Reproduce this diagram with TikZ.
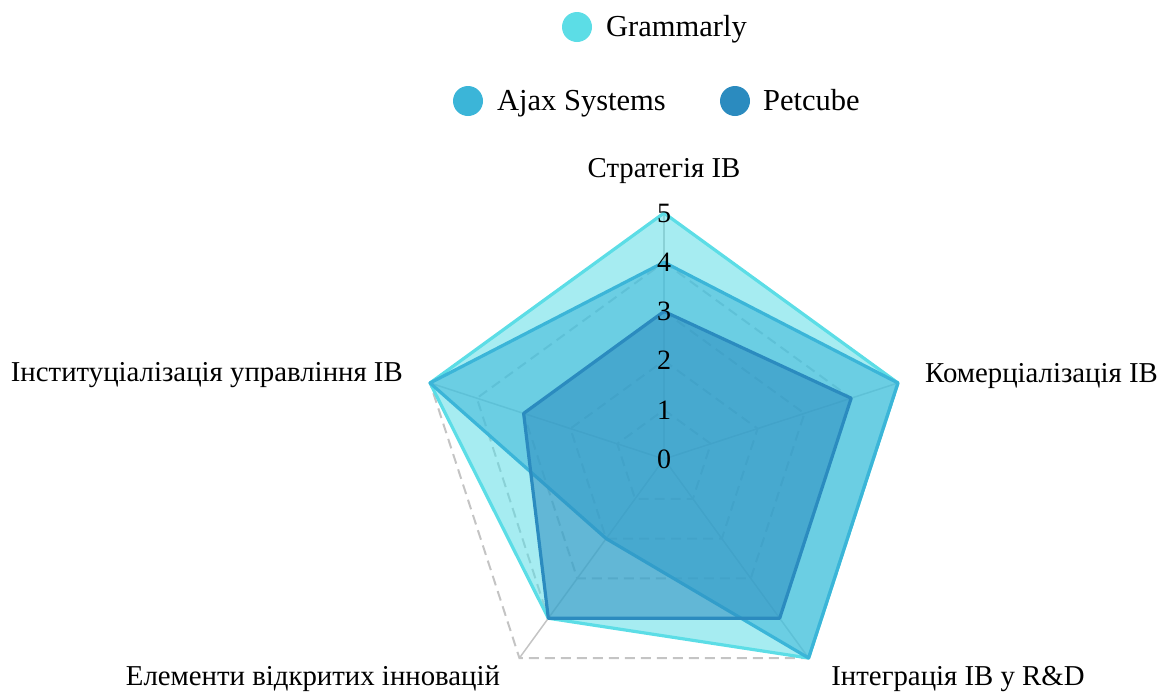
\documentclass[tikz,border=0pt]{standalone}
\usepackage{fontspec}
\setmainfont{Liberation Serif}
\definecolor{gram}{HTML}{5CDDE6}
\definecolor{ajax}{HTML}{3BB5D8}
\definecolor{pet}{HTML}{2B8BBF}
\definecolor{gridc}{HTML}{C4C4C4}
\def\rstep{49.2}
\tikzset{
  gridring/.style={draw=gridc, line width=2pt, dash pattern=on 10pt off 6pt},
  gridspoke/.style={draw=gridc, line width=1.5pt},
  series/.style={draw=#1, line width=3.2pt, line join=round, fill=#1, fill opacity=0.55, draw opacity=1},
  lbl/.style={inner sep=0pt, font=\fontsize{28.8}{34}\selectfont},
  leg/.style={inner sep=0pt, font=\fontsize{30.5}{36}\selectfont},
  tick/.style={inner sep=0pt, font=\fontsize{28}{34}\selectfont},
  legdot/.style={fill=#1},
}
\begin{document}
\begin{tikzpicture}[x=1pt,y=-1pt]
\useasboundingbox (0,0) rectangle (1164,694);
% legend
\fill[legdot=gram] (577,27) circle (15pt);
\node[leg, anchor=base west] (lg) at (606,36) {Grammarly};
\fill[legdot=ajax] (468,101) circle (15pt);
\node[leg, anchor=base west] (la) at (497,110) {Ajax Systems};
\fill[legdot=pet] (735,101) circle (15pt);
\node[leg, anchor=base west] (lp) at (763,110) {Petcube};
% axis labels
\node[lbl, anchor=base] (ax1) at (664,177) {Стратегія ІВ};
\node[lbl, anchor=base west] (ax2) at (925,382) {Комерціалізація ІВ};
\node[lbl, anchor=base] (ax3) at (958,685) {Інтеграція ІВ у R\&D};
\node[lbl, anchor=base] (ax4) at (313,685) {Елементи відкритих інновацій};
\node[lbl, anchor=base east] (ax5) at (403,381) {Інституціалізація управління ІВ};
\begin{scope}[shift={(664,459)}]
  \coordinate (o) at (0,0);
  % grid rings
  \foreach \l in {1,...,5}
    \draw[gridring] (-90:\l*\rstep) -- (-18:\l*\rstep) -- (54:\l*\rstep) -- (126:\l*\rstep) -- (198:\l*\rstep) -- cycle;
  % spokes
  \foreach \a in {-90,-18,54,126,198}
    \draw[gridspoke] (o) -- (\a:5*\rstep);
  % series
  \path[series=gram] (-90:5*\rstep) -- (-18:5*\rstep) -- (54:5*\rstep) -- (126:4*\rstep) -- (198:5*\rstep) -- cycle;
  \path[series=ajax] (-90:4*\rstep) -- (-18:5*\rstep) -- (54:5*\rstep) -- (126:2*\rstep) -- (198:5*\rstep) -- cycle;
  \path[series=pet] (-90:3*\rstep) -- (-18:4*\rstep) -- (54:4*\rstep) -- (126:4*\rstep) -- (198:3*\rstep) -- cycle;
  % ticks
  \foreach \l in {0,...,5}
    \node[tick] (t\l) at (-90:\l*\rstep) {\l};
\end{scope}
\end{tikzpicture}
\end{document}
